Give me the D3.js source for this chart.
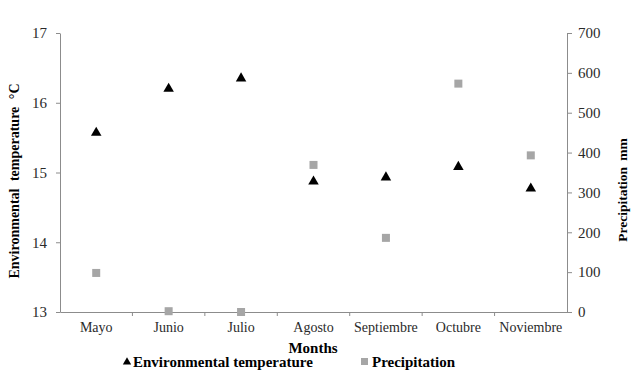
<!DOCTYPE html>
<html><head><meta charset="utf-8">
<script src="https://cdn.jsdelivr.net/npm/d3@7"></script>
<style>body{margin:0;background:#fff}svg{display:block}svg text{font-family:"Liberation Serif","Times New Roman",serif}</style>
</head><body>
<svg id="c" width="635" height="386"></svg>
<script>
const months = ["Mayo","Junio","Julio","Agosto","Septiembre","Octubre","Noviembre"];
const temperature = [15.57, 16.2, 16.35, 14.87, 14.93, 15.08, 14.77];
const precipitation = [98, 2, 0, 369, 186, 573, 393];
const tempTicks = [13,14,15,16,17];
const precTicks = [0,100,200,300,400,500,600,700];

const svg = d3.select("#c");
const L = 60, R = 567, T = 33, B = 312;
const x = d3.scaleBand().domain(months).range([L, R]);
const yT = d3.scaleLinear().domain([13,17]).range([B, T]);
const yP = d3.scaleLinear().domain([0,700]).range([B, T]);
const font = '"Liberation Serif","Times New Roman",serif';
const axisCol = "#8c8c8c";

function style(g, fs){
  g.attr("font-family", null);
  g.selectAll("path,line").attr("stroke", axisCol);
  g.selectAll("text").style("font-family", font).attr("font-size", fs).attr("fill", "#2a2a2a");
}
const gx = svg.append("g").attr("transform", `translate(0,${B})`)
  .call(d3.axisBottom(x).tickSize(0).tickSizeOuter(0).tickPadding(10));
style(gx, 14);
gx.selectAll("text").attr("dy", "0.71em");
gx.selectAll(".bound").data(months.slice(1)).enter().append("line")
  .attr("x1", d => x(d)).attr("x2", d => x(d)).attr("y1", 0).attr("y2", 4)
  .attr("stroke", axisCol);

const gl = svg.append("g").attr("transform", `translate(${L},0)`)
  .call(d3.axisLeft(yT).tickValues(tempTicks).tickFormat(d3.format("d")).tickSize(4).tickSizeOuter(0).tickPadding(9));
style(gl, 15);
const gr = svg.append("g").attr("transform", `translate(${R},0)`)
  .call(d3.axisRight(yP).tickValues(precTicks).tickFormat(d3.format("d")).tickSize(5).tickSizeOuter(0).tickPadding(6));
style(gr, 15);

const cx = d => x(d) + x.bandwidth()/2;
svg.append("g").selectAll("rect").data(months).enter().append("rect")
  .attr("x", d => cx(d) - 4).attr("y", (d,i) => yP(precipitation[i]) - 4)
  .attr("width", 8).attr("height", 8).attr("fill", "#a6a6a6");
const tri = d3.symbol().type(d3.symbolTriangle).size(48);
svg.append("g").selectAll("path").data(months).enter().append("path")
  .attr("d", tri)
  .attr("transform", (d,i) => `translate(${cx(d)},${yT(temperature[i])})`)
  .attr("fill", "#000");

function title(t){ return t.style("font-family", font).attr("font-weight","bold").attr("fill","#000"); }
title(svg.append("text").attr("x", 313).attr("y", 353).attr("text-anchor","middle").attr("font-size",15).text("Months"));
title(svg.append("text").attr("transform", `translate(19,181) rotate(-90)`).attr("text-anchor","middle").attr("font-size",14).style("word-spacing","4px").text("Environmental temperature °C"));
title(svg.append("text").attr("transform", `translate(627,190) rotate(-90)`).attr("text-anchor","middle").attr("font-size",13.5).style("word-spacing","3px").text("Precipitation mm"));

const lg = svg.append("g");
lg.append("path").attr("d", d3.symbol().type(d3.symbolTriangle).size(30)).attr("transform","translate(127,362)").attr("fill","#000");
title(lg.append("text").attr("x",133).attr("y",367).attr("font-size",15).text("Environmental temperature"));
lg.append("rect").attr("x",361).attr("y",358).attr("width",7).attr("height",7).attr("fill","#a6a6a6");
title(lg.append("text").attr("x",372).attr("y",367).attr("font-size",15).text("Precipitation"));
</script>
</body></html>
